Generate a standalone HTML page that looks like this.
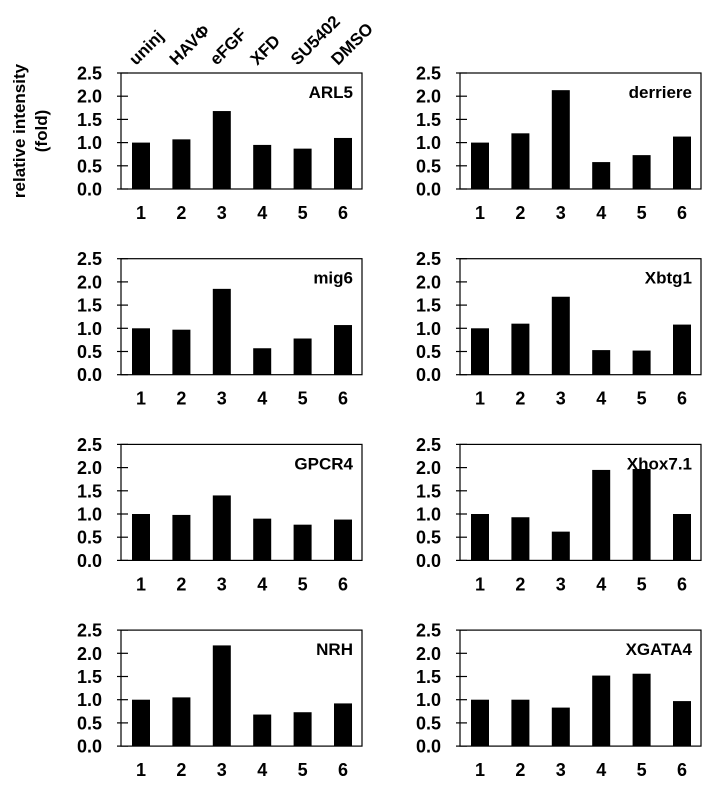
<!DOCTYPE html>
<html><head><meta charset="utf-8"><style>
html,body{margin:0;padding:0;background:#fff;}
svg{display:block;font-family:"Liberation Sans",Arial,sans-serif;font-weight:bold;}
</style></head><body>
<svg id="fig" width="711" height="794" viewBox="0 0 711 794">
<g>
<text transform="translate(25,131) rotate(-90)" text-anchor="middle" font-size="17">relative intensity</text>
<text transform="translate(47,131) rotate(-90)" text-anchor="middle" font-size="17">(fold)</text>
</g>
</svg>
<script>
const categories=["uninj","HAVΦ","eFGF","XFD","SU5402","DMSO"];
const laneLabels=["1","2","3","4","5","6"];
const yTicks=[0,0.5,1.0,1.5,2.0,2.5];
const panelNames=["ARL5","derriere","mig6","Xbtg1","GPCR4","Xhox7.1","NRH","XGATA4"];
const vARL5=[1.0,1.07,1.68,0.95,0.87,1.1];
const vDerriere=[1.0,1.2,2.13,0.58,0.73,1.13];
const vMig6=[1.0,0.97,1.85,0.57,0.78,1.07];
const vXbtg1=[1.0,1.1,1.68,0.53,0.52,1.08];
const vGPCR4=[1.0,0.98,1.4,0.9,0.77,0.88];
const vXhox=[1.0,0.93,0.62,1.95,1.97,1.0];
const vNRH=[1.0,1.05,2.17,0.68,0.73,0.92];
const vXGATA4=[1.0,1.0,0.83,1.52,1.56,0.97];
const series=[vARL5,vDerriere,vMig6,vXbtg1,vGPCR4,vXhox,vNRH,vXGATA4];
const NS="http://www.w3.org/2000/svg";
const svg=document.getElementById('fig');
function mk(tag,attrs,parent){const e=document.createElementNS(NS,tag);for(const k in attrs)e.setAttribute(k,attrs[k]);parent.appendChild(e);return e;}
const W=241,H=116,yMax=2.5;
series.forEach((vals,p)=>{
  const col=p%2,row=Math.floor(p/2);
  const x0=col?460:121, y0=73+row*185.7;
  const g=mk('g',{},svg);
  
  
  const ys=v=>y0+H-v/yMax*H;
  const xs=i=>x0+20+i*40.4;
  const fr=mk('rect',{x:x0,y:y0,width:W,height:H,fill:'none',stroke:'#000','stroke-width':1.2},g);
  
  
  yTicks.forEach(t=>{
    const ln=mk('line',{x1:x0-4,x2:x0+7,y1:ys(t),y2:ys(t),stroke:'#000','stroke-width':1.2},g);
    
    
    const tx=mk('text',{x:x0-19,y:ys(t)+6.5,'text-anchor':'end','font-size':18},g);
    tx.textContent=t.toFixed(1);
    
    
  });
  vals.forEach((v,i)=>{
    const b=mk('rect',{x:xs(i)-9,y:ys(v),width:18,height:ys(0)-ys(v),fill:'#000'},g);
    
    
    const lt=mk('text',{x:xs(i),y:y0+H+30,'text-anchor':'middle','font-size':18},g);
    lt.textContent=laneLabels[i];
    
    
  });
  const tt=mk('text',{x:x0+W-9,y:y0+25,'text-anchor':'end','font-size':17},g);
  tt.textContent=panelNames[p];
  
  
});
categories.forEach((c,i)=>{
  const t=mk('text',{transform:'translate('+(141+i*40.4-5)+',66) rotate(-45)','font-size':17},svg);
  t.textContent=c;
  
  
});
</script>
</body></html>
